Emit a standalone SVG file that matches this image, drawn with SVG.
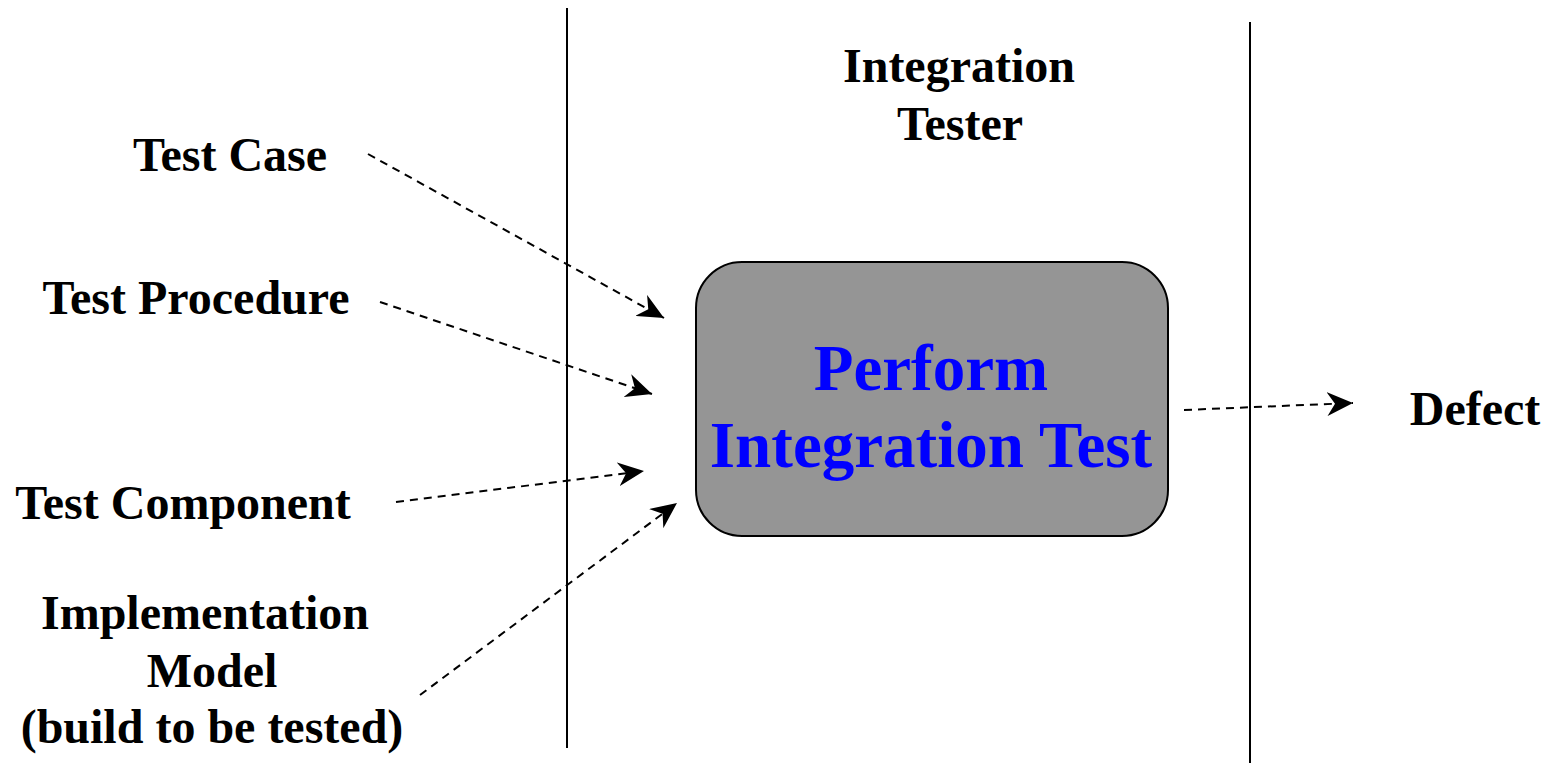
<svg xmlns="http://www.w3.org/2000/svg" width="1548" height="763" viewBox="0 0 1548 763">
<style>
.lbl{font-family:"Liberation Serif","Times New Roman",serif;font-weight:bold;font-size:48px;fill:#000;text-anchor:middle}
.big{font-family:"Liberation Serif","Times New Roman",serif;font-weight:bold;font-size:65px;fill:#0000ff;text-anchor:middle}
.lane{stroke:#000;stroke-width:2;fill:none}
.flow{stroke:#000;stroke-width:2;stroke-dasharray:8 6;fill:none}
</style>
<defs>
<marker id="ah" markerUnits="userSpaceOnUse" markerWidth="28" markerHeight="24" refX="26" refY="12" orient="auto" viewBox="0 0 28 24">
<path d="M0,0 L26,12 L0,24 L8,12 Z" fill="#000"/>
</marker>
</defs>
<rect width="1548" height="763" fill="#fff"/>
<g id="swimlanes">
<line class="lane" x1="567" y1="8" x2="567" y2="748"/>
<line class="lane" x1="1250" y1="22" x2="1250" y2="763"/>
</g>
<g id="lane-title">
<text class="lbl" x="959" y="82">Integration</text>
<text class="lbl" x="960" y="140">Tester</text>
</g>
<g id="activity">
<rect x="696" y="262" width="472" height="274" rx="46" ry="46" fill="#959595" stroke="#000" stroke-width="2"/>
<text class="big" x="931" y="390">Perform</text>
<text class="big" x="931" y="467">Integration Test</text>
</g>
<g id="test-case"><text class="lbl" x="230" y="171">Test Case</text></g>
<g id="test-procedure"><text class="lbl" x="196" y="314">Test Procedure</text></g>
<g id="test-component"><text class="lbl" x="183" y="519">Test Component</text></g>
<g id="implementation-model">
<text class="lbl" x="205" y="629">Implementation</text>
<text class="lbl" x="212" y="687">Model</text>
<text class="lbl" x="212" y="743">(build to be tested)</text>
</g>
<g id="defect"><text class="lbl" x="1475" y="425">Defect</text></g>
<g id="connectors">
<line class="flow" x1="368" y1="154" x2="664" y2="318" marker-end="url(#ah)"/>
<line class="flow" x1="380" y1="302" x2="652" y2="394" marker-end="url(#ah)"/>
<line class="flow" x1="396" y1="502" x2="644" y2="471" marker-end="url(#ah)"/>
<line class="flow" x1="420" y1="695" x2="677" y2="503" marker-end="url(#ah)"/>
<line class="flow" x1="1184" y1="410" x2="1353" y2="403" marker-end="url(#ah)"/>
</g>
</svg>
